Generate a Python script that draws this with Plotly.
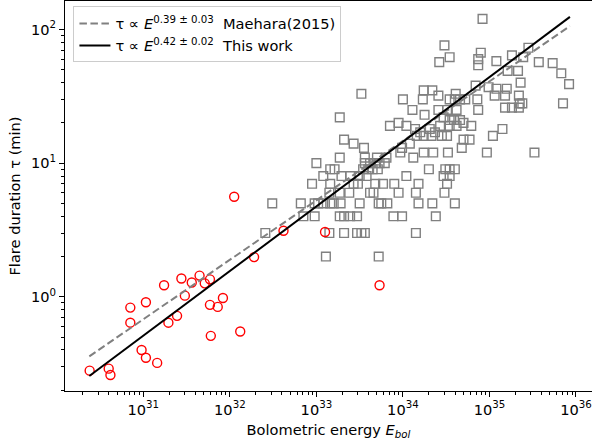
import plotly.graph_objects as go

# ---------------- data ----------------
# Maehara (2015) superflares: log10 bolometric energy (erg) and duration (min)
maehara_logE = [
    33.11, 33.72,
    32.41, 33.15, 33.32, 33.47, 33.52, 33.56, 34.15,
    32.85, 32.98, 33.27, 33.32, 33.39, 33.47, 33.89, 33.99, 34.38,
    32.49, 32.82, 32.98, 33.02, 33.08, 33.16, 33.20, 33.28, 33.50, 33.72, 33.75, 33.82, 34.18, 34.34, 34.60,
    33.15, 33.27, 33.38, 33.62, 33.66, 33.95, 34.15, 34.48,
    32.95, 33.16, 33.43, 33.48, 33.68, 33.77, 33.90, 34.18, 34.51,
    33.08, 33.29, 33.39, 33.50, 33.58, 34.04, 34.47, 34.54,
    33.16, 33.21, 33.54, 33.60, 33.65, 33.71, 34.30, 34.49, 34.54, 34.60,
    33.00, 33.56, 33.62, 33.68, 33.73, 33.79,
    33.27, 33.56, 33.70, 33.81, 34.12,
    33.97, 34.24, 34.35, 34.52, 34.97, 35.52,
    33.55, 33.99, 34.68,
    33.43, 34.08,
    33.32, 34.70, 34.77,
    34.16, 34.24, 34.33, 34.45, 34.51, 35.04,
    34.20, 34.37,
    34.14, 34.31, 35.15,
    33.85, 34.04, 34.43, 34.54, 34.62, 34.79,
    33.95, 34.70,
    34.54, 34.59, 34.66,
    33.27, 34.47,
    34.25,
    34.11, 34.41, 34.51, 34.62, 34.87,
    35.18, 35.26, 35.34,
    35.35, 35.38, 35.85,
    34.00, 34.23, 34.54, 34.60, 34.66, 34.72, 34.86,
    34.41, 35.06, 35.18, 35.34,
    33.52, 34.61,
    34.24, 34.34,
    35.08, 35.20,
    34.99, 34.84, 35.92, 35.36, 35.83,
    35.21, 35.33,
    34.87, 35.73,
    34.42, 35.57,
    35.08, 34.87,
    34.54, 35.39,
    35.26, 34.90, 35.45, 34.48, 34.92,
]
maehara_tau = (
    [2] * 2 + [3] * 7 + [4] * 9 + [5] * 15 + [6] * 8 + [7] * 9 + [8] * 8 + [9] * 10
    + [10] * 6 + [11] * 5 + [12] * 6 + [13] * 3 + [14] * 2 + [15] * 3 + [16] * 6
    + [17] * 2 + [18] * 3 + [19] * 6 + [20] * 2 + [21] * 3 + [22] * 2 + [23] * 1
    + [25] * 5 + [26] * 3 + [28] * 3 + [30] * 7 + [32] * 4 + [33] * 2 + [35] * 2
    + [36] * 2 + [37, 38, 39, 40, 47] + [49] * 2 + [54, 56] + [57] * 2 + [58, 60]
    + [62] * 2 + [64, 67, 73, 76, 120]
)

# This work: log10 bolometric energy (erg) and duration (min)
work_logE = [30.38, 30.60, 30.62, 30.85, 30.85, 31.03, 30.98, 31.03, 31.16, 31.24,
             31.29, 31.39, 31.44, 31.48, 31.56, 31.65, 31.71, 31.77, 31.77, 31.86,
             31.92, 31.78, 32.12, 32.05, 32.28, 32.62, 33.10, 33.73]
work_tau = [0.28, 0.29, 0.26, 0.83, 0.64, 0.91, 0.40, 0.35, 0.32, 1.22,
            0.64, 0.72, 1.37, 1.02, 1.28, 1.44, 1.26, 1.35, 0.87, 0.84,
            0.98, 0.51, 0.55, 5.60, 1.98, 3.12, 3.05, 1.22]

# fitted power laws (end points as drawn)
fit_logE = [30.376, 35.93]
maehara_fit_logtau = [-0.446, 2.025]
work_fit_logtau = [-0.593, 2.094]

x_ticks = [31, 32, 33, 34, 35, 36]
y_ticks = [0, 1, 2]

# ---------------- figure ----------------
FONT = "DejaVu Sans"
FS = 14.6
SP = "&nbsp;&nbsp;"
fig = go.Figure()

fig.add_trace(go.Scatter(
    x=[10.0 ** v for v in maehara_logE], y=maehara_tau, mode="markers",
    marker=dict(symbol="square-open", size=8.7, color="#808080", line=dict(width=1.4)),
    showlegend=False, hoverinfo="skip"))

fig.add_trace(go.Scatter(
    x=[10.0 ** v for v in work_logE], y=work_tau, mode="markers",
    marker=dict(symbol="circle-open", size=9, color="#ff0000", line=dict(width=1.4)),
    showlegend=False, hoverinfo="skip"))

fig.add_trace(go.Scatter(
    x=[10.0 ** v for v in fit_logE], y=[10.0 ** v for v in maehara_fit_logtau], mode="lines",
    line=dict(color="#808080", width=2, dash="7.5px,3.5px"),
    name=f"τ ∝ <i>E</i><sup>0.39 ± 0.03</sup>{SP}Maehara(2015)"))

fig.add_trace(go.Scatter(
    x=[10.0 ** v for v in fit_logE], y=[10.0 ** v for v in work_fit_logtau], mode="lines",
    line=dict(color="black", width=2),
    name=f"τ ∝ <i>E</i><sup>0.42 ± 0.02</sup>{SP}This work"))

x_minor = [float(m) * 10.0 ** d for d in range(30, 37) for m in range(2, 10)]
y_minor = [float(m) * 10.0 ** d for d in range(-1, 3) for m in range(2, 10)]

fig.update_layout(
    width=592, height=446,
    margin=dict(l=65, r=0, t=1, b=55, autoexpand=False),
    paper_bgcolor="white", plot_bgcolor="white",
    font=dict(family=FONT, size=FS, color="black"),
    legend=dict(x=0.016, y=0.986, xanchor="left", yanchor="top",
                bgcolor="rgba(255,255,255,0.8)", bordercolor="#cccccc", borderwidth=1,
                font=dict(family=FONT, size=FS), tracegroupgap=0, itemwidth=31),
)

fig.update_xaxes(
    type="log", range=[30.095, 36.185], automargin=False,
    showgrid=False, zeroline=False,
    showline=True, linecolor="black", linewidth=1.1, mirror=True,
    ticks="outside", ticklen=5, tickwidth=1.1, tickcolor="black",
    tickvals=[10.0 ** d for d in x_ticks],
    ticktext=[f"10<sup>{d}</sup>" for d in x_ticks],
    tickfont=dict(family=FONT, size=FS),
    minor=dict(tickmode="array", tickvals=x_minor, ticks="outside", ticklen=3,
               tickwidth=0.8, tickcolor="black", showgrid=False),
    title=dict(text="Bolometric energy <i>E<sub>bol</sub></i>", standoff=8,
               font=dict(family=FONT, size=FS)),
)
fig.update_yaxes(
    type="log", range=[-0.705, 2.213], automargin=False,
    showgrid=False, zeroline=False,
    showline=True, linecolor="black", linewidth=1.1, mirror=False,
    ticks="outside", ticklen=5, tickwidth=1.1, tickcolor="black",
    tickvals=[10.0 ** d for d in y_ticks],
    ticktext=[f"10<sup>{d}</sup>" for d in y_ticks],
    tickfont=dict(family=FONT, size=FS),
    minor=dict(tickmode="array", tickvals=y_minor, ticks="outside", ticklen=3,
               tickwidth=0.8, tickcolor="black", showgrid=False),
    title=dict(text="Flare duration τ (min)", standoff=6,
               font=dict(family=FONT, size=FS)),
)

fig.write_html("out.html", config={"displayModeBar": False},
               post_script="document.body.style.margin='0px';document.body.style.overflow='hidden';")
